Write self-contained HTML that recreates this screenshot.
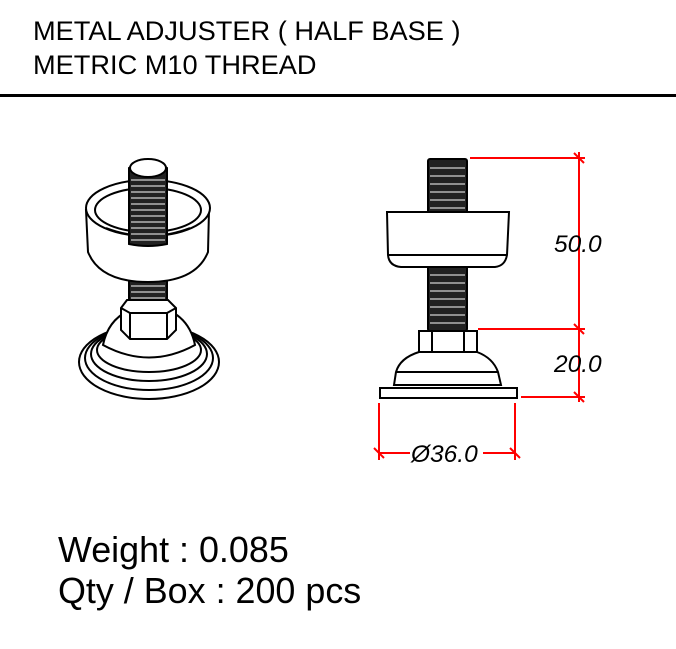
<!DOCTYPE html>
<html><head><meta charset="utf-8"><style>
html,body{margin:0;padding:0;background:#fff;}
body{width:676px;height:649px;overflow:hidden;position:relative;font-family:"Liberation Sans",sans-serif;}
</style></head><body>
<svg width="676" height="649" viewBox="0 0 676 649" xmlns="http://www.w3.org/2000/svg" style="position:absolute;left:0;top:0">
<g font-family="Liberation Sans, sans-serif" fill="#000">
<text x="33" y="40" font-size="27.2">METAL ADJUSTER ( HALF BASE )</text>
<text x="33" y="74" font-size="27.2">METRIC M10 THREAD</text>
<text x="58" y="562" font-size="35.9">Weight : 0.085</text>
<text x="58" y="603" font-size="35.9">Qty / Box : 200 pcs</text>
</g>
<rect x="0" y="94" width="676" height="3" fill="#000"/>

<g stroke="#000" stroke-width="2" fill="#fff">
<ellipse cx="149" cy="362" rx="70" ry="37"/>
<ellipse cx="149" cy="358" rx="64" ry="32"/>
<ellipse cx="149" cy="354" rx="58" ry="27"/>
<ellipse cx="149" cy="350" rx="52" ry="22"/>
<path d="M103 345 Q110 310 149 305 Q188 310 195 345 Q149 370 103 345Z"/>
<rect x="129" y="270" width="38" height="40" fill="#222"/>
<path d="M121 308 L127 300 L168 300 L176 308 L176 330 L167 339 L130 339 L121 330Z"/>
<path d="M130 313 L167 313 M130 313 L130 339 M167 313 L167 339 M121 308 L130 313 M176 308 L167 313"/>
<path d="M86 210 L88 252 Q100 282 148 282 Q196 282 208 252 L209 210Z"/>
<ellipse cx="148" cy="208" rx="62" ry="28"/>
<ellipse cx="148" cy="210" rx="53" ry="22"/>
<path d="M106 228 Q148 244 190 228" fill="none"/>
<path d="M129 244 L129 168 Q148 156 167 168 L167 244 Q148 248 129 244Z" fill="#222"/>
<ellipse cx="148" cy="168" rx="18" ry="9"/>
</g>
<g stroke="#fff" stroke-width="1">
<path d="M131 180h34M131 186h34M131 192h34M131 198h34M131 204h34M131 210h34M131 216h34M131 222h34M131 228h34M131 234h34M131 240h34M131 286h34M131 292h34M131 298h34"/>
</g>

<g stroke="#000" stroke-width="2" fill="#fff">
<rect x="428" y="159" width="39" height="172" fill="#222" rx="2"/>
<path d="M387 212 L509 212 L507 255 Q505 266 495 267 L401 267 Q389 266 388 255Z"/>
<path d="M388 255 L507 255" fill="none"/>
<path d="M419 331 L477 331 L477 352 L419 352Z"/>
<path d="M432 331 L432 352 M464 331 L464 352"/>
<path d="M419 352 Q400 358 396 372 L394 385 L501 385 L498 372 Q493 358 477 352Z"/>
<path d="M396 372 L498 372" fill="none"/>
<rect x="380" y="388" width="137" height="10"/>
</g>
<g stroke="#fff" stroke-width="1">
<path d="M430 168h35M430 176h35M430 184h35M430 192h35M430 200h35M430 208h35M430 275h35M430 283h35M430 291h35M430 299h35M430 307h35M430 315h35M430 323h35"/>
</g>

<g stroke="#f00" stroke-width="2" fill="none">
<path d="M470 158 L585 158 M478 329 L585 329 M521 397 L585 397 M579 152 L579 402"/>
<path d="M574 153 L584 163 M574 324 L584 334 M574 392 L584 402"/>
<path d="M379 403 L379 460 M515 403 L515 460 M379 453 L410 453 M483 453 L515 453"/>
<path d="M374 448 L384 458 M510 448 L520 458"/>
</g>
<g font-family="Liberation Sans, sans-serif" font-style="italic" font-size="24.5" fill="#000">
<text x="554" y="252">50.0</text>
<text x="554" y="372">20.0</text>
<text x="411" y="462">Ø36.0</text>
</g>
</svg>
</body></html>
